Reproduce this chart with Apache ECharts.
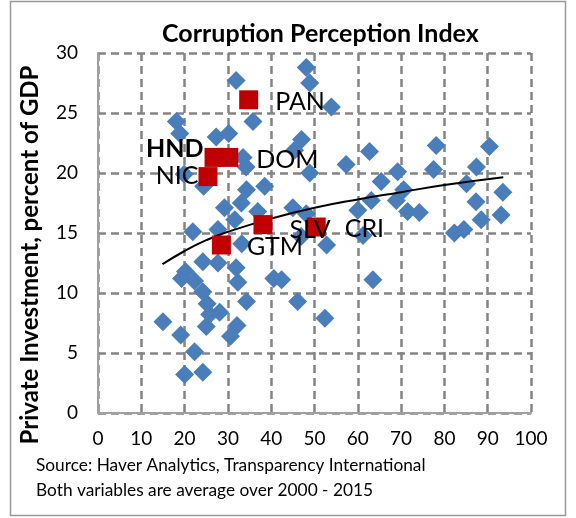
<!DOCTYPE html>
<html>
<head>
<meta charset="utf-8">
<title>Corruption Perception Index</title>
<script src="https://cdn.jsdelivr.net/npm/echarts@6/dist/echarts.min.js"></script>
</head>
<body style="margin:0">
<div id="main" style="width:576px;height:518px;"></div>
<script>
// other countries: corruption perception index vs private investment (% of GDP)
var cpiX = [48.1, 48.9, 31.9, 53.9, 35.8, 18.1, 18.9, 27.3, 30.2, 47.0, 45.4, 62.7, 57.3, 48.9,
    33.5, 34.2, 19.9, 24.4, 34.3, 38.5, 33.1, 29.2, 36.9, 45.0, 48.1, 31.6, 21.9, 27.7, 33.2,
    52.8, 46.9, 24.2, 27.7, 20.2, 19.3, 22.3, 31.9, 32.3, 40.6, 42.4, 24.2, 34.3, 46.1, 25.2,
    25.8, 28.1, 25.0, 52.4, 32.1, 30.6, 15.0, 19.1, 22.3, 20.0, 24.2, 60.0, 63.1, 61.2, 63.5,
    65.4, 69.2, 70.6, 68.9, 71.5, 74.2, 78.1, 77.5, 82.3, 84.5, 90.4, 87.4, 85.1, 87.3, 88.5,
    93.5, 93.1];
var invY = [28.8, 27.5, 27.7, 25.5, 24.3, 24.3, 23.3, 23.0, 23.3, 22.8, 21.9, 21.8, 20.7, 20.0,
    21.3, 20.5, 19.9, 18.9, 18.6, 18.9, 17.5, 17.1, 16.8, 17.1, 16.6, 16.1, 15.1, 15.3, 14.1,
    14.0, 14.7, 12.6, 12.5, 11.8, 11.2, 11.0, 12.1, 10.9, 11.2, 11.1, 10.1, 9.3, 9.3, 9.1,
    8.2, 8.4, 7.2, 7.9, 7.3, 6.4, 7.6, 6.5, 5.1, 3.2, 3.4, 16.9, 17.7, 14.8, 11.1,
    19.3, 20.1, 18.6, 17.7, 16.8, 16.7, 22.3, 20.3, 15.0, 15.3, 22.2, 20.5, 19.1, 17.6, 16.1,
    18.4, 16.5];

// Central American countries
var codes = ['PAN', 'HND', 'DOM', 'NIC', 'GTM', 'SLV', 'CRI'];
var codeX = [34.8, 26.8, 30.2, 25.4, 28.5, 38.1, 50.4];
var codeY = [26.1, 21.3, 21.3, 19.7, 14.0, 15.7, 15.5];

// log trend line
var trendX = [14.9, 20, 25, 30, 40, 50, 60, 70, 80, 93.6];
var trendY = [12.4, 13.5, 14.4, 15.1, 16.2, 17.1, 17.8, 18.4, 19.0, 19.65];

var labelPos = {
    PAN: {position: 'right', distance: 17, offset: [0, 2]},
    HND: {position: 'left', distance: 1, offset: [0, -8], fontWeight: 'bold'},
    DOM: {position: 'right', distance: 18, offset: [0, 3]},
    NIC: {position: 'left', distance: 0, offset: [0, -1]},
    GTM: {position: 'right', distance: 16, offset: [0, 2]},
    SLV: {position: 'right', distance: 17, offset: [0, 5]},
    CRI: {position: 'right', distance: 19, offset: [0, 2]}
};

var blueData = cpiX.map(function (x, i) { return [x, invY[i]]; });
var redData = codes.map(function (c, i) {
    return {value: [codeX[i], codeY[i]], name: c, label: labelPos[c]};
});
var trendData = trendX.map(function (x, i) { return [x, trendY[i]]; });

var chart = echarts.init(document.getElementById('main'));
var gridLine = {show: true, lineStyle: {color: '#848484', width: 2.5, type: [8, 5]}};
var axisLine = {show: true, lineStyle: {color: '#a0a0a0', width: 2}};
var tickFont = {color: '#000', fontSize: 19, fontFamily: 'Lato'};

chart.setOption({
    animation: false,
    backgroundColor: '#fff',
    title: {
        text: 'Corruption Perception Index',
        left: 157, top: 16,
        textStyle: {fontFamily: 'Lato', fontWeight: 'bold', fontSize: 25, color: '#000'}
    },
    grid: {left: 98, right: 45, top: 53, bottom: 105},
    xAxis: {
        type: 'value', min: 0, max: 100, interval: 10,
        axisLine: axisLine, axisTick: {show: false},
        splitLine: gridLine,
        axisLabel: Object.assign({margin: 16}, tickFont)
    },
    yAxis: {
        type: 'value', min: 0, max: 30, interval: 5,
        axisLine: axisLine, axisTick: {show: false},
        splitLine: gridLine,
        axisLabel: Object.assign({margin: 20}, tickFont)
    },
    graphic: [
        {type: 'rect', shape: {x: 10.5, y: 1.5, width: 555, height: 514},
            style: {fill: 'none', stroke: '#999', lineWidth: 1.5}, z: -1},
        {type: 'text', x: 30, y: 255, rotation: Math.PI / 2,
            style: {text: 'Private Investment, percent of GDP', fontFamily: 'Lato', fontWeight: 'bold',
                fontSize: 24, fill: '#000', align: 'center', verticalAlign: 'middle'}},
        {type: 'text', left: 36, top: 457,
            style: {text: 'Source: Haver Analytics, Transparency International', fontFamily: 'Lato',
                fontSize: 17.3, fill: '#000'}},
        {type: 'text', left: 36, top: 482,
            style: {text: 'Both variables are average over 2000 - 2015', fontFamily: 'Lato',
                fontSize: 17.3, fill: '#000'}}
    ],
    series: [
        {
            type: 'scatter', data: blueData, symbol: 'diamond', symbolSize: 19,
            itemStyle: {color: '#4a7ebb', opacity: 1}, z: 2
        },
        {
            type: 'line', data: trendData, smooth: true, symbol: 'none',
            lineStyle: {color: '#000', width: 2}, z: 3
        },
        {
            type: 'scatter', data: redData, symbol: 'rect', symbolSize: 19,
            itemStyle: {color: '#c00000', opacity: 1}, z: 4,
            label: {show: true, formatter: '{b}', color: '#000', fontSize: 25, fontFamily: 'Lato'}
        }
    ]
});
</script>
</body>
</html>
